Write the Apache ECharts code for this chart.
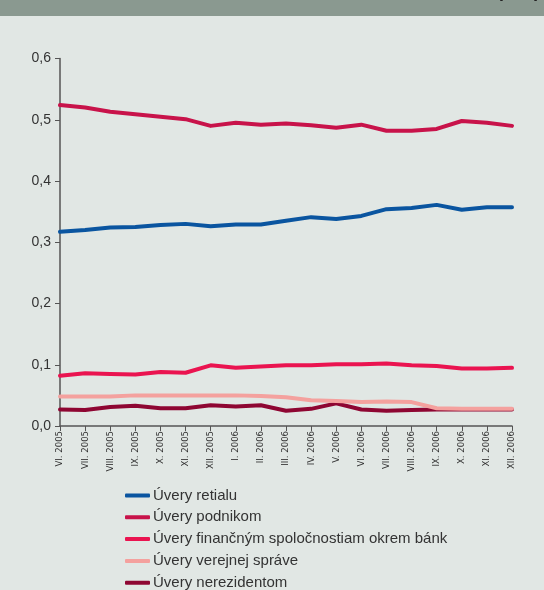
<!DOCTYPE html>
<html>
<head>
<meta charset="utf-8">
<script src="https://cdn.jsdelivr.net/npm/echarts@6/dist/echarts.min.js"></script>
<style>
  html, body { margin: 0; padding: 0; background: #e1e7e4; }
  #chart { width: 544px; height: 590px; }
</style>
</head>
<body>
<div id="chart"></div>
<script>
// Monthly categories
const months = ['VI. 2005', 'VII. 2005', 'VIII. 2005', 'IX. 2005', 'X. 2005', 'XI. 2005', 'XII. 2005',
  'I. 2006', 'II. 2006', 'III. 2006', 'IV. 2006', 'V. 2006', 'VI. 2006', 'VII. 2006', 'VIII. 2006',
  'IX. 2006', 'X. 2006', 'XI. 2006', 'XII. 2006'];

const uveryRetailu = [0.317, 0.320, 0.324, 0.325, 0.328, 0.330, 0.326, 0.329, 0.329, 0.335,
  0.341, 0.338, 0.343, 0.354, 0.356, 0.361, 0.353, 0.357, 0.357];
const uveryPodnikom = [0.524, 0.520, 0.513, 0.509, 0.505, 0.501, 0.490, 0.495, 0.492, 0.494,
  0.491, 0.487, 0.492, 0.482, 0.482, 0.485, 0.498, 0.495, 0.490];
const uveryFinancnym = [0.082, 0.086, 0.085, 0.084, 0.088, 0.087, 0.099, 0.095, 0.097, 0.099,
  0.099, 0.101, 0.101, 0.102, 0.099, 0.098, 0.094, 0.094, 0.095];
const uveryVerejnej = [0.048, 0.048, 0.048, 0.050, 0.050, 0.050, 0.050, 0.050, 0.049, 0.047,
  0.042, 0.041, 0.039, 0.040, 0.039, 0.029, 0.028, 0.028, 0.028];
const uveryNerezidentom = [0.027, 0.026, 0.031, 0.033, 0.029, 0.029, 0.034, 0.032, 0.034, 0.025,
  0.028, 0.037, 0.027, 0.025, 0.026, 0.027, 0.027, 0.027, 0.027];

const seriesNames = ['Úvery retialu', 'Úvery podnikom', 'Úvery finančným spoločnostiam okrem bánk',
  'Úvery verejnej správe', 'Úvery nerezidentom'];
const seriesColors = ['#0a55a0', '#c8134a', '#ea1450', '#f4a19e', '#8e0632'];
const seriesData = [uveryRetailu, uveryPodnikom, uveryFinancnym, uveryVerejnej, uveryNerezidentom];

const chart = echarts.init(document.getElementById('chart'));
const font = '"Liberation Sans", Arial, sans-serif';

chart.setOption({
  backgroundColor: '#e1e7e4',
  animation: false,
  textStyle: { fontFamily: font },
  graphic: [
    { type: 'rect', left: 0, top: 0, shape: { width: 544, height: 16 }, style: { fill: '#8a9990' } },
    { type: 'text', right: 4, top: -17, style: { text: '(v %)', fontSize: 18, fontWeight: 'bold', fill: '#222', fontFamily: font } }
  ],
  grid: { left: 60, right: 32, top: 58.5, bottom: 164, containLabel: false },
  xAxis: {
    type: 'category',
    data: months,
    boundaryGap: false,
    axisLine: { lineStyle: { color: '#555', width: 1.5 } },
    axisTick: { show: true, length: 5, alignWithLabel: true, lineStyle: { color: '#555' } },
    axisLabel: {
      rotate: 90, interval: 0, margin: 5, fontSize: 9.5, color: '#333',
      fontFamily: '"DejaVu Sans Condensed", "Liberation Sans Narrow", sans-serif'
    },
    splitLine: { show: false }
  },
  yAxis: {
    type: 'value',
    min: 0, max: 0.6, interval: 0.1,
    axisLine: { show: true, lineStyle: { color: '#555', width: 1.5 } },
    axisTick: { show: true, length: 5, lineStyle: { color: '#555' } },
    axisLabel: {
      fontSize: 14, color: '#333', margin: 9,
      formatter: v => v.toFixed(1).replace('.', ',')
    },
    splitLine: { show: false }
  },
  legend: {
    orient: 'vertical',
    left: 125, top: 488, height: 140, padding: 0,
    itemWidth: 25, itemHeight: 4, itemGap: 6.8,
    icon: 'roundRect',
    textStyle: { fontSize: 15, color: '#333', fontFamily: font, padding: [0, 0, 0, -2] },
    data: seriesNames
  },
  series: seriesNames.map((name, i) => ({
    name,
    type: 'line',
    data: seriesData[i],
    symbol: 'none',
    smooth: false,
    z: 10 - i,
    lineStyle: { color: seriesColors[i], width: 4, cap: 'round', join: 'round' },
    itemStyle: { color: seriesColors[i] }
  }))
});
</script>
</body>
</html>
